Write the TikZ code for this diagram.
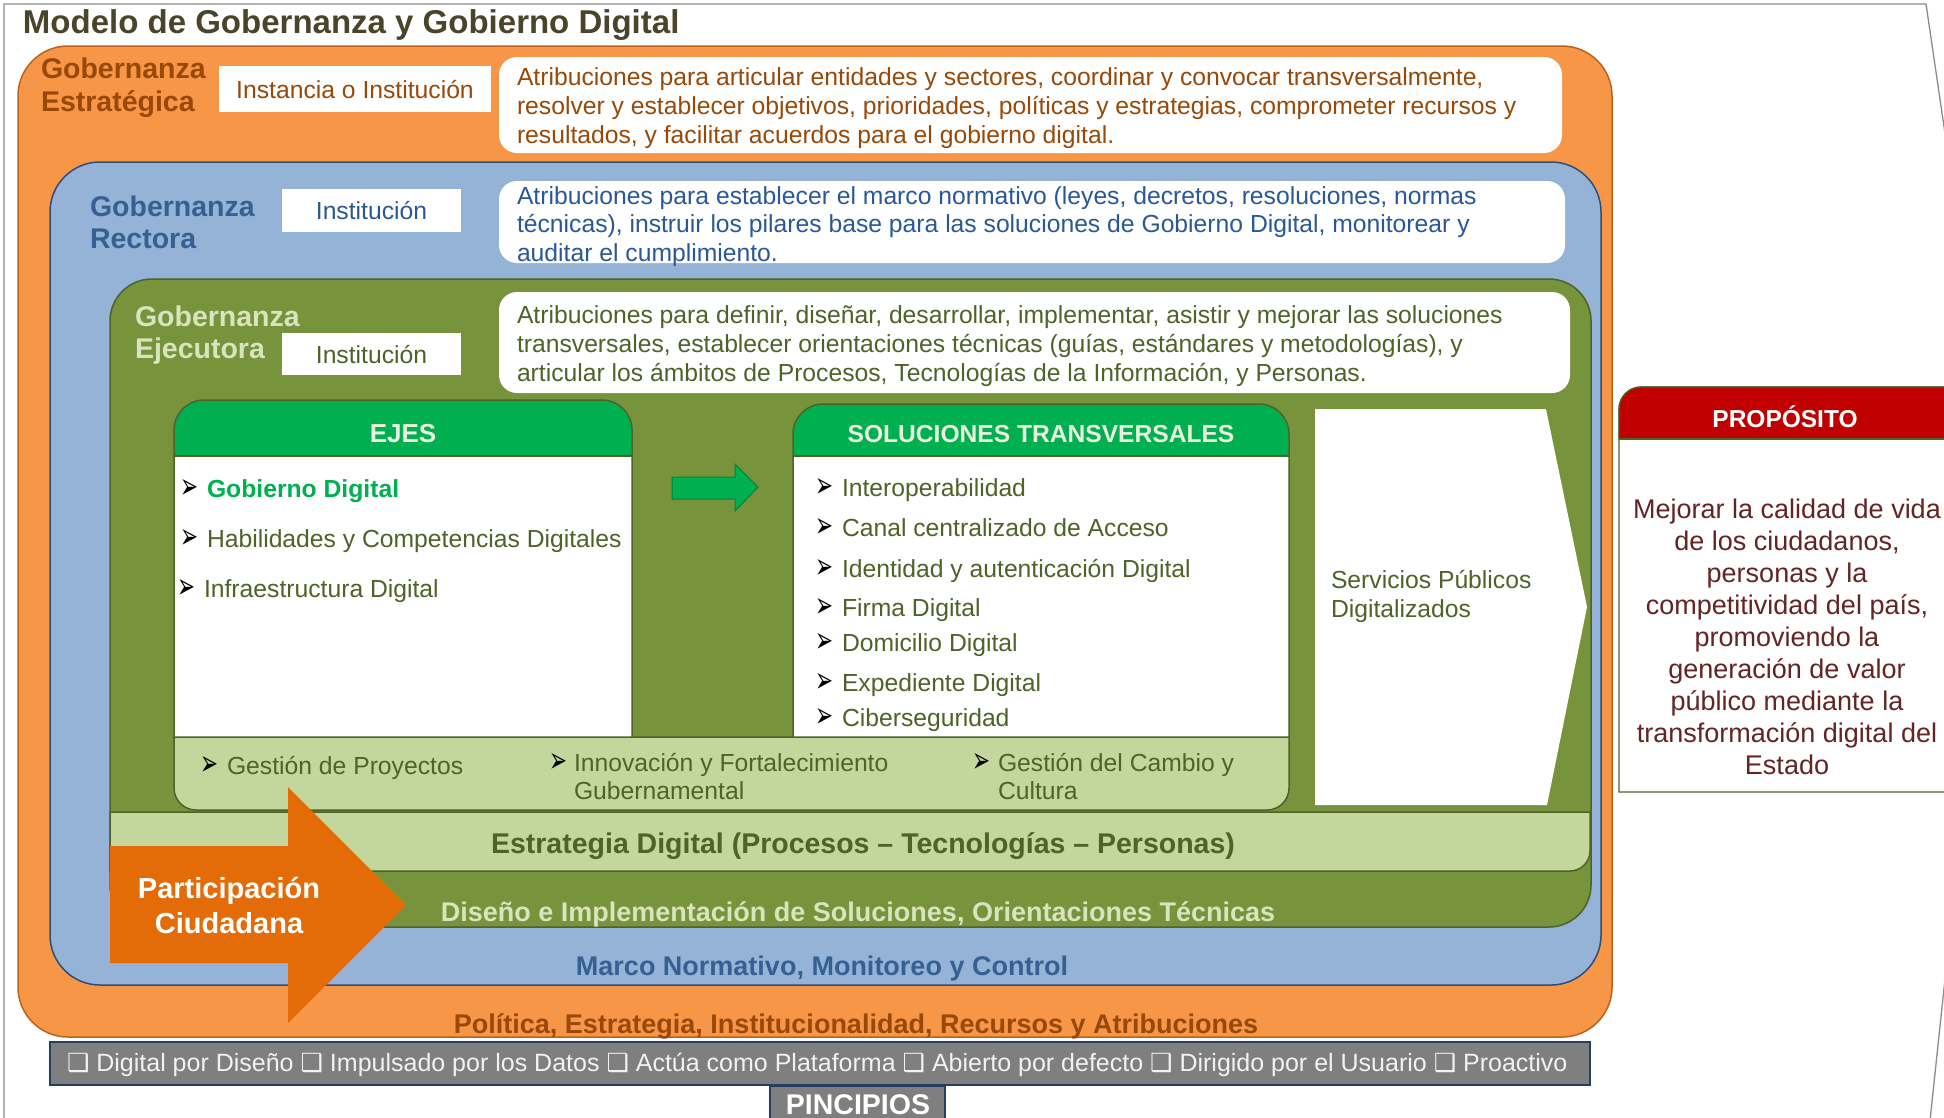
\documentclass[tikz,border=0pt]{standalone}
\usepackage{fontspec}
\usepackage{graphicx}
\setmainfont{Liberation Sans}
\newfontfamily\symfont{DejaVu Sans}

\definecolor{orFill}{HTML}{F79646}
\definecolor{orLine}{HTML}{B9641C}
\definecolor{orText}{HTML}{984807}
\definecolor{blFill}{HTML}{95B3D7}
\definecolor{blLine}{HTML}{2F4E7A}
\definecolor{blLabel}{HTML}{366092}
\definecolor{blText}{HTML}{2A5896}
\definecolor{grFill}{HTML}{77933C}
\definecolor{grLine}{HTML}{4F6228}
\definecolor{grText}{HTML}{4F6228}
\definecolor{grLight}{HTML}{D7E4BD}
\definecolor{bandFill}{HTML}{C3D69B}
\definecolor{hdrGreen}{HTML}{00B050}
\definecolor{hdrEdge}{HTML}{00823B}
\definecolor{hdrText}{HTML}{EBF1DE}
\definecolor{partOrange}{HTML}{E36C09}
\definecolor{pGray}{HTML}{7F7F7F}
\definecolor{pLine}{HTML}{243F60}
\definecolor{pText}{HTML}{F2F2F2}
\definecolor{propRed}{HTML}{C00000}
\definecolor{propText}{HTML}{632423}
\definecolor{titleC}{HTML}{4A452A}
\definecolor{frameC}{HTML}{8C8C8C}

% stacked lines with a fixed baseline distance; the box baseline is the first line
\newcommand{\stackL}[2]{\vtop{\baselineskip=#1\relax\lineskiplimit=-1000pt\lineskip=0pt\halign{##\hfil\cr#2\crcr}}}
\newcommand{\stackC}[2]{\vtop{\baselineskip=#1\relax\lineskiplimit=-1000pt\lineskip=0pt\halign{\hfil##\hfil\cr#2\crcr}}}
% arrowhead bullet followed by a fixed gap
\newcommand{\arrowbulw}[1]{\makebox[#1][l]{\raisebox{-1pt}{\resizebox{18pt}{19pt}{\symfont\color{black}➢}}}}
\newcommand{\arrowbul}{\arrowbulw{27pt}}
\newcommand{\sqbul}{{\symfont ❑}}

\begin{document}
\begin{tikzpicture}[x=1pt,y=-1pt,
  every node/.style={inner sep=0pt, outer sep=0pt},
  txt/.style={anchor=base west, font=\fontsize{24.7}{29}\selectfont},
  hd/.style={anchor=base west, font=\bfseries\fontsize{28.5}{33}\selectfont},
  bandtxt/.style={anchor=base, font=\bfseries\fontsize{27}{32}\selectfont},
  instbox/.style={fill=white},
  insttxt/.style={anchor=base, font=\fontsize{24.7}{29}\selectfont},
  frame/.style={line width=1.5pt}]
\useasboundingbox (0,0) rectangle (1944,1117);
\clip (0,0) rectangle (1944,1117);
\fill[white] (0,0) rectangle (1944,1117);

% page outline
\draw[frameC, line width=1.3pt] (4,1130) -- (4,4) -- (1926,4) -- (1947,147);
\draw[frameC, line width=1.3pt] (1947,960) -- (1929,1130);

\node[anchor=base west, font=\bfseries\fontsize{33}{33}\selectfont, text=titleC] (title) at (23,33) {Modelo de Gobernanza y Gobierno Digital};

% ---- strategic layer
\filldraw[fill=orFill, draw=orLine, frame, rounded corners=50] (18,46) rectangle (1612,1037);
\node[hd, text=orText] (estrat) at (41,78) {\stackL{33pt}{Gobernanza\cr Estratégica}};
\fill[instbox] (219,66) rectangle (491,112);
\node[insttxt, text=orText] (estratInst) at (355,98) {Instancia o Institución};
\fill[white, rounded corners=18] (499,57) rectangle (1562,153);
\node[txt, text=orText] (estratDesc) at (517,85) {\stackL{29pt}{Atribuciones para articular entidades y sectores, coordinar y convocar transversalmente,\cr resolver y establecer objetivos, prioridades, políticas y estrategias, comprometer recursos y\cr resultados, y facilitar acuerdos para el gobierno digital.}};

% ---- governing layer
\filldraw[fill=blFill, draw=blLine, frame, rounded corners=50] (50,162) rectangle (1601,985);
\node[hd, text=blLabel] (rect) at (90,216) {\stackL{32.5pt}{Gobernanza\cr Rectora}};
\fill[instbox] (282,189) rectangle (461,232);
\node[insttxt, text=blText] (rectInst) at (371.5,219.5) {Institución};
\fill[white, rounded corners=18] (499,181) rectangle (1565,263);
\node[txt, text=blText] (rectDesc) at (517,204) {\stackL{28.5pt}{Atribuciones para establecer el marco normativo (leyes, decretos, resoluciones, normas\cr técnicas), instruir los pilares base para las soluciones de Gobierno Digital, monitorear y\cr auditar el cumplimiento.}};

% ---- executing layer
\filldraw[fill=grFill, draw=grLine, frame, rounded corners=42] (110,279) rectangle (1591,927);
\node[hd, text=grLight] (ejec) at (135,326) {\stackL{32.5pt}{Gobernanza\cr Ejecutora}};
\fill[instbox] (282,333) rectangle (461,375);
\node[insttxt, text=grText] (ejecInst) at (371.5,363) {Institución};
\fill[white, rounded corners=18] (499,292) rectangle (1570,393);
\node[txt, text=grText] (ejecDesc) at (517,323) {\stackL{29pt}{Atribuciones para definir, diseñar, desarrollar, implementar, asistir y mejorar las soluciones\cr transversales, establecer orientaciones técnicas (guías, estándares y metodologías), y\cr articular los ámbitos de Procesos, Tecnologías de la Información, y Personas.}};

% ---- EJES panel
\fill[white, rounded corners=30] (174,740) -- (174,400) -- (632,400) -- (632,740);
\fill[hdrGreen, rounded corners=30] (174,456) -- (174,400) -- (632,400) -- (632,456);
\draw[grLine, frame, rounded corners=30] (174,740) -- (174,400) -- (632,400) -- (632,740);
\draw[grLine, frame] (174,456) -- (632,456);
\node[anchor=base, font=\bfseries\fontsize{26}{30}\selectfont, text=hdrText] (ejesHd) at (403,442) {EJES};
\node[txt, text=grText] (eje1) at (180,497) {\arrowbul\textcolor{hdrGreen}{\bfseries Gobierno Digital}};
\node[txt, text=grText] (eje2) at (180,547) {\arrowbul Habilidades y Competencias Digitales};
\node[txt, text=grText] (eje3) at (177,597) {\arrowbul Infraestructura Digital};

% ---- SOLUCIONES panel
\fill[white, rounded corners=30] (793,740) -- (793,404) -- (1289,404) -- (1289,740);
\fill[hdrGreen, rounded corners=30] (793,456) -- (793,404) -- (1289,404) -- (1289,456);
\draw[grLine, frame, rounded corners=30] (793,740) -- (793,404) -- (1289,404) -- (1289,740);
\draw[grLine, frame] (793,456) -- (1289,456);
\node[anchor=base, font=\bfseries\fontsize{24.6}{29}\selectfont, text=hdrText] (solHd) at (1041,442) {SOLUCIONES TRANSVERSALES};
\node[txt, text=grText] (sol1) at (815,496) {\arrowbul Interoperabilidad};
\node[txt, text=grText] (sol2) at (815,536) {\arrowbul Canal centralizado de Acceso};
\node[txt, text=grText] (sol3) at (815,577) {\arrowbul Identidad y autenticación Digital};
\node[txt, text=grText] (sol4) at (815,616) {\arrowbul Firma Digital};
\node[txt, text=grText] (sol5) at (815,651) {\arrowbul Domicilio Digital};
\node[txt, text=grText] (sol6) at (815,691) {\arrowbul Expediente Digital};
\node[txt, text=grText] (sol7) at (815,726) {\arrowbul Ciberseguridad};

% arrow from EJES to SOLUCIONES
\filldraw[fill=hdrGreen, draw=hdrEdge, line width=1pt] (672,477) -- (735,477) -- (735,464) -- (758,487) -- (735,511) -- (735,499) -- (672,499) -- cycle;

% public services chevron
\fill[white] (1315,409) -- (1546,409) -- (1587,607) -- (1547,805) -- (1315,805) -- cycle;
\node[txt, text=grText] (serv) at (1331,588) {\stackL{29pt}{Servicios Públicos\cr Digitalizados}};

% cross-cutting management band
\filldraw[fill=bandFill, draw=grLine, frame] (174,737) -- (174,788) arc[start angle=180, end angle=90, radius=22] -- (1267,810) arc[start angle=90, end angle=0, radius=22] -- (1289,737) -- cycle;
\node[txt, text=grText] (band1) at (200,774) {\arrowbulw{27pt}Gestión de Proyectos};
\node[txt, text=grText] (band2) at (549,771) {\arrowbulw{25pt}\stackL{28pt}{Innovación y Fortalecimiento\cr Gubernamental}};
\node[txt, text=grText] (band3) at (972,771) {\arrowbulw{26pt}\stackL{28pt}{Gestión del Cambio y\cr Cultura}};

% digital strategy band
\filldraw[fill=bandFill, draw=grLine, frame] (110,812) -- (1590,812) -- (1590,851) arc[start angle=0, end angle=90, radius=20] -- (110,871) -- cycle;
\node[bandtxt, font=\bfseries\fontsize{28.5}{33}\selectfont, text=grText] (estrategia) at (863,853) {Estrategia Digital (Procesos – Tecnologías – Personas)};

% citizen participation arrow
\fill[partOrange] (110,846) -- (288,846) -- (288,787) -- (406,905) -- (288,1023) -- (288,963) -- (110,963) -- cycle;
\node[anchor=base, font=\bfseries\fontsize{29}{35}\selectfont, text=white] (part) at (229,898) {\stackC{35pt}{Participación\cr Ciudadana}};

% layer footers
\node[bandtxt, text=grLight] (disenio) at (858,921) {Diseño e Implementación de Soluciones, Orientaciones Técnicas};
\node[bandtxt, text=blLabel] (marco) at (822,975) {Marco Normativo, Monitoreo y Control};
\node[bandtxt, text=orText] (politica) at (856,1033) {Política, Estrategia, Institucionalidad, Recursos y Atribuciones};

% principles
\filldraw[fill=pGray, draw=pLine, line width=1.3pt] (50,1042) rectangle (1590,1085);
\filldraw[fill=pGray, draw=pLine, line width=1.3pt] (770,1130) -- (770,1086) -- (945,1086) -- (945,1130);
\node[anchor=base west, font=\fontsize{25}{29}\selectfont, text=pText] (princ) at (67,1071) {\sqbul\ Digital por Diseño \sqbul\ Impulsado por los Datos \sqbul\ Actúa como Plataforma \sqbul\ Abierto por defecto \sqbul\ Dirigido por el Usuario \sqbul\ Proactivo};
\node[anchor=base, font=\bfseries\fontsize{28.5}{33}\selectfont, text=white] (princHd) at (858,1114) {PINCIPIOS};

% purpose
\filldraw[fill=white, draw=grLine, line width=1.3pt] (1960,792) -- (1619,792) -- (1619,409) arc[start angle=180, end angle=270, radius=22] -- (1960,387);
\fill[propRed] (1619,439) -- (1619,409) arc[start angle=180, end angle=270, radius=22] -- (1960,387) -- (1960,439) -- cycle;
\draw[grLine, line width=1.3pt] (1619,439) -- (1960,439);
\draw[grLine, line width=1.3pt] (1619,439) -- (1619,409) arc[start angle=180, end angle=270, radius=22] -- (1960,387);
\node[anchor=base, font=\bfseries\fontsize{24.5}{29}\selectfont, text=white] (propHd) at (1785,427) {PROPÓSITO};
\node[anchor=base, font=\fontsize{27}{32}\selectfont, text=propText] (propTxt) at (1787,518) {\stackC{32.1pt}{Mejorar la calidad de vida\cr de los ciudadanos,\cr personas y la\cr competitividad del país,\cr promoviendo la\cr generación de valor\cr público mediante la\cr transformación digital del\cr Estado}};
\end{tikzpicture}
\end{document}
